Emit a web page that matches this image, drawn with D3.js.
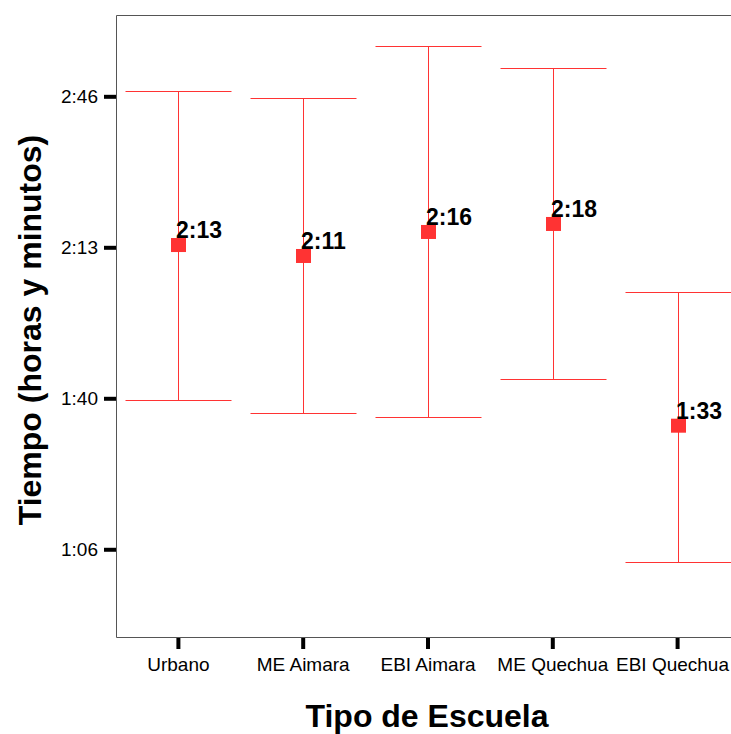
<!DOCTYPE html>
<html>
<head>
<meta charset="utf-8">
<script src="https://cdn.jsdelivr.net/npm/d3@7"></script>
<style>
  body { margin: 0; background: #fff; }
  svg { display: block; }
</style>
</head>
<body>
<svg width="731" height="734"></svg>
<script>
// tiempo en segundos
var categories = ["Urbano", "ME Aimara", "EBI Aimara", "ME Quechua", "EBI Quechua"];
var means = [8030, 7885, 8203, 8309, 5637];
var upper = [10070, 9977, 10666, 10375, 7404];
var lower = [5977, 5805, 5752, 6256, 3828];
var meanLabels = ["2:13", "2:11", "2:16", "2:18", "1:33"];
var yTicks = [4000, 6000, 8000, 10000];

function main(){
    var svg = d3.select("svg");
    var W = +svg.attr("width");
    var left = 116, top = 15, right = 740, bottom = 637;
    var red = "#ff3333";
    var font = "'Liberation Sans', Arial, sans-serif";

    var xScale = d3.scaleBand().domain(categories).range([left, right]);
    var yScale = d3.scaleLinear().domain([2838, 11077]).range([bottom, top]);

    function hm(s){
        var m = Math.floor(s / 60);
        return Math.floor(m / 60) + ":" + d3.format("02")(m % 60);
    }

    // marco
    svg.append("path")
        .attr("d", "M" + (right + 1) + "," + (top + 0.5) + "H" + (left + 0.5) + "V" + (bottom + 0.5) + "H" + (right + 1))
        .attr("fill", "none")
        .attr("stroke", "#555")
        .attr("stroke-width", 1);

    var yAxis = svg.append("g")
        .attr("transform", "translate(" + left + ",0)")
        .call(d3.axisLeft(yScale).tickValues(yTicks).tickFormat(hm).tickSize(12).tickPadding(6));
    yAxis.select(".domain").remove();
    yAxis.selectAll(".tick line").attr("stroke", "#000").attr("stroke-width", 4);
    yAxis.selectAll(".tick text")
        .attr("font-family", font)
        .attr("font-size", "19px").attr("fill", "#000");

    var xAxis = svg.append("g")
        .attr("transform", "translate(0," + bottom + ")")
        .call(d3.axisBottom(xScale).tickSize(12).tickPadding(9));
    xAxis.select(".domain").remove();
    xAxis.selectAll(".tick line").attr("stroke", "#000").attr("stroke-width", 4)
        .attr("y1", 1);
    xAxis.selectAll(".tick text")
        .attr("font-family", font)
        .attr("font-size", "19px").attr("fill", "#000");

    // la ultima etiqueta se corre para que quepa
    xAxis.selectAll(".tick").each(function(d){
        var t = d3.select(this).select("text");
        var tx = xScale(d) + xScale.bandwidth() / 2;
        var w = t.node().getComputedTextLength();
        var over = tx + w / 2 - (W - 2);
        if (over > 0) t.attr("x", -over);
    });

    var g = svg.append("g");
    var cx = function(d, i){ return Math.round(xScale(categories[i]) + xScale.bandwidth() / 2) + 0.5; };
    var capW = 53;

    g.selectAll(".whisker")
        .data(means).enter().append("line")
        .attr("x1", cx).attr("x2", cx)
        .attr("y1", function(d, i){ return yScale(upper[i]); })
        .attr("y2", function(d, i){ return yScale(lower[i]); })
        .attr("stroke", red).attr("stroke-width", 1);

    g.selectAll(".capTop")
        .data(means).enter().append("line")
        .attr("x1", function(d, i){ return cx(d, i) - capW; })
        .attr("x2", function(d, i){ return cx(d, i) + capW; })
        .attr("y1", function(d, i){ return Math.round(yScale(upper[i])) + 0.5; })
        .attr("y2", function(d, i){ return Math.round(yScale(upper[i])) + 0.5; })
        .attr("stroke", red).attr("stroke-width", 1);

    g.selectAll(".capBottom")
        .data(means).enter().append("line")
        .attr("x1", function(d, i){ return cx(d, i) - capW; })
        .attr("x2", function(d, i){ return cx(d, i) + capW; })
        .attr("y1", function(d, i){ return Math.round(yScale(lower[i])) + 0.5; })
        .attr("y2", function(d, i){ return Math.round(yScale(lower[i])) + 0.5; })
        .attr("stroke", red).attr("stroke-width", 1);

    g.selectAll(".mean")
        .data(means).enter().append("rect")
        .attr("x", function(d, i){ return cx(d, i) - 7.5; })
        .attr("y", function(d){ return yScale(d) - 7; })
        .attr("width", 15).attr("height", 14)
        .attr("fill", red);

    g.selectAll(".meanLabel")
        .data(means).enter().append("text")
        .attr("x", function(d, i){ return cx(d, i) - 2.5; })
        .attr("y", function(d){ return yScale(d) - 7; })
        .attr("font-family", font)
        .attr("font-size", "23px").attr("font-weight", "bold")
        .attr("fill", "#000")
        .text(function(d, i){ return meanLabels[i]; });

    svg.append("text")
        .attr("transform", "translate(41,330) rotate(-90)")
        .attr("text-anchor", "middle")
        .attr("font-family", font)
        .attr("font-size", "32px").attr("font-weight", "bold")
        .text("Tiempo (horas y minutos)");

    svg.append("text")
        .attr("x", 427).attr("y", 727)
        .attr("text-anchor", "middle")
        .attr("font-family", font)
        .attr("font-size", "32px").attr("font-weight", "bold")
        .text("Tipo de Escuela");
}
main();
</script>
</body>
</html>
